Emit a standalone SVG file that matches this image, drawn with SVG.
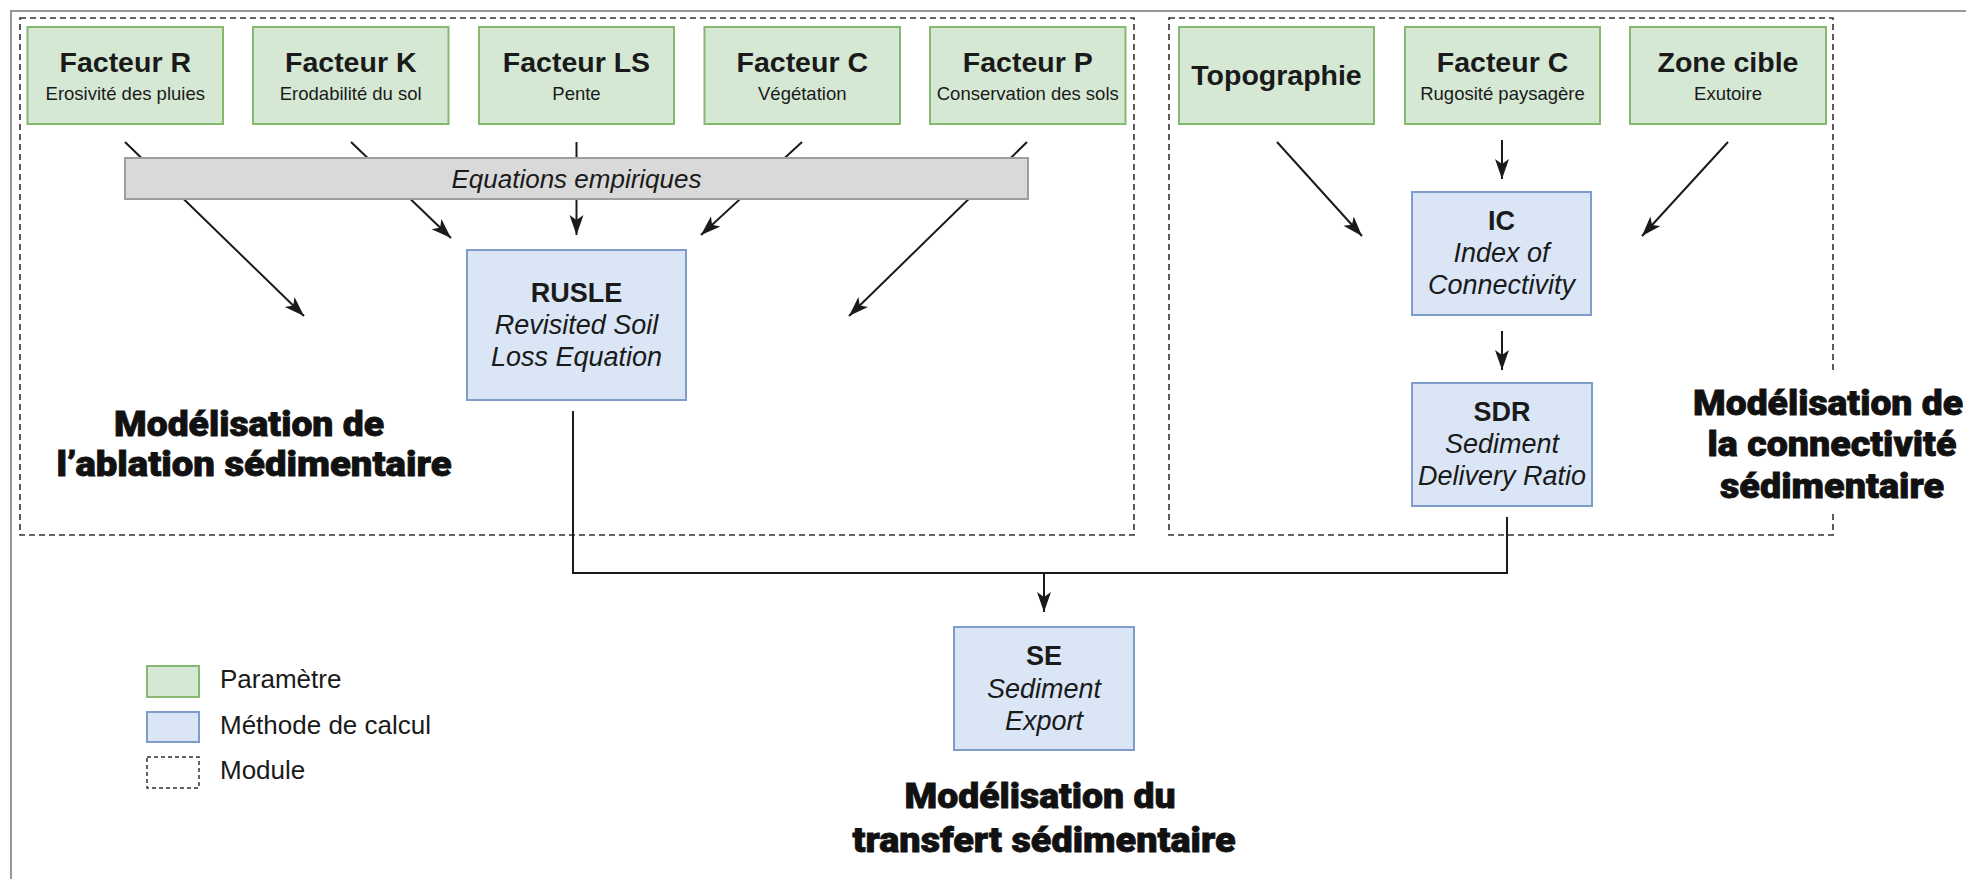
<svg xmlns="http://www.w3.org/2000/svg" width="1966" height="879" viewBox="0 0 1966 879">
<defs>
<style>
.param{fill:#d5e8d4;stroke:#86b870;stroke-width:2}
.calc{fill:#dae6f6;stroke:#7f9dcb;stroke-width:2}
.module{fill:none;stroke:#333;stroke-width:1.6;stroke-dasharray:6 4}
.t{font-family:"Liberation Sans",Arial,sans-serif;fill:#1a1a1a;text-anchor:middle}
.h{font-weight:bold;font-size:28.5px}
.s{font-size:18.5px}
.mh{font-weight:bold;font-size:27px}
.mi{font-style:italic;font-size:27px}
.title{font-family:Roboto,"Liberation Sans",Arial,sans-serif;font-weight:900;font-size:35px;fill:#111;stroke:#111;stroke-width:0.8;text-anchor:middle}
.leg{font-family:"Liberation Sans",Arial,sans-serif;fill:#1a1a1a;font-size:26px}
.edge{fill:none;stroke:#1a1a1a;stroke-width:2}
.arrow{fill:none;stroke:#1a1a1a;stroke-width:2;marker-end:url(#arr)}
</style>
<marker id="arr" markerUnits="userSpaceOnUse" markerWidth="22" markerHeight="16" refX="20" refY="7" orient="auto">
<path d="M0,0 L20,7 L0,14 L5,7 Z" fill="#1a1a1a"/>
</marker>
</defs>
<rect x="0" y="0" width="1966" height="879" fill="#ffffff"/>
<rect x="11" y="11" width="2000" height="900" fill="none" stroke="#8c8c8c" stroke-width="1.8"/>

<g id="module-ablation">
<rect class="module" x="20" y="18" width="1114" height="517"/>
<text class="title" x="249" y="436" textLength="270" lengthAdjust="spacingAndGlyphs">Modélisation de</text>
<text class="title" x="254" y="476" textLength="395" lengthAdjust="spacingAndGlyphs">l’ablation sédimentaire</text>
</g>

<g id="module-connectivite">
<rect class="module" x="1169" y="18" width="664" height="517"/>
<rect x="1684" y="372" width="282" height="140" fill="#ffffff"/>
<text class="title" x="1828" y="415" textLength="270" lengthAdjust="spacingAndGlyphs">Modélisation de</text>
<text class="title" x="1832" y="456" textLength="249" lengthAdjust="spacingAndGlyphs">la connectivité</text>
<text class="title" x="1832" y="498" textLength="224" lengthAdjust="spacingAndGlyphs">sédimentaire</text>
</g>

<g id="module-transfert">
<text class="title" x="1040" y="808" textLength="271" lengthAdjust="spacingAndGlyphs">Modélisation du</text>
<text class="title" x="1044" y="852" textLength="383" lengthAdjust="spacingAndGlyphs">transfert sédimentaire</text>
</g>

<g id="connectors">
<line class="arrow" x1="125" y1="142" x2="304" y2="316"/>
<line class="arrow" x1="351" y1="142" x2="451" y2="238"/>
<line class="arrow" x1="576.5" y1="142" x2="576.5" y2="235"/>
<line class="arrow" x1="802" y1="142" x2="701" y2="235"/>
<line class="arrow" x1="1027" y1="142" x2="849" y2="316"/>
<line class="arrow" x1="1277" y1="142" x2="1362" y2="236"/>
<line class="arrow" x1="1502" y1="140" x2="1502" y2="179"/>
<line class="arrow" x1="1728" y1="142" x2="1642" y2="236"/>
<line class="arrow" x1="1502" y1="331" x2="1502" y2="370"/>
<polyline class="edge" points="573,411 573,573 1507,573 1507,517"/>
<line class="arrow" x1="1044" y1="573" x2="1044" y2="612"/>
</g>

<g id="equations-empiriques">
<rect x="125" y="158" width="903" height="41" fill="#d9d9d9" stroke="#9e9e9e" stroke-width="2"/>
<text class="t" x="576.5" y="188" font-size="26" font-style="italic">Equations empiriques</text>
</g>

<g id="facteur-r">
<rect class="param" x="27.5" y="27" width="195.5" height="97"/>
<text class="t h" x="125.25" y="72">Facteur R</text>
<text class="t s" x="125.25" y="100">Erosivité des pluies</text>
</g>
<g id="facteur-k">
<rect class="param" x="253" y="27" width="195.5" height="97"/>
<text class="t h" x="350.75" y="72">Facteur K</text>
<text class="t s" x="350.75" y="100">Erodabilité du sol</text>
</g>
<g id="facteur-ls">
<rect class="param" x="479" y="27" width="195" height="97"/>
<text class="t h" x="576.5" y="72">Facteur LS</text>
<text class="t s" x="576.5" y="100">Pente</text>
</g>
<g id="facteur-c">
<rect class="param" x="704.5" y="27" width="195.5" height="97"/>
<text class="t h" x="802.25" y="72">Facteur C</text>
<text class="t s" x="802.25" y="100">Végétation</text>
</g>
<g id="facteur-p">
<rect class="param" x="930" y="27" width="195.5" height="97"/>
<text class="t h" x="1027.75" y="72">Facteur P</text>
<text class="t s" x="1027.75" y="100">Conservation des sols</text>
</g>
<g id="topographie">
<rect class="param" x="1179" y="27" width="195" height="97"/>
<text class="t h" x="1276.5" y="85">Topographie</text>
</g>
<g id="facteur-c-rugosite">
<rect class="param" x="1405" y="27" width="195" height="97"/>
<text class="t h" x="1502.5" y="72">Facteur C</text>
<text class="t s" x="1502.5" y="100">Rugosité paysagère</text>
</g>
<g id="zone-cible">
<rect class="param" x="1630" y="27" width="196" height="97"/>
<text class="t h" x="1728" y="72">Zone cible</text>
<text class="t s" x="1728" y="100">Exutoire</text>
</g>

<g id="rusle">
<rect class="calc" x="467" y="250" width="219" height="150"/>
<text class="t mh" x="576.5" y="302">RUSLE</text>
<text class="t mi" x="576.5" y="334">Revisited Soil</text>
<text class="t mi" x="576.5" y="366">Loss Equation</text>
</g>
<g id="ic">
<rect class="calc" x="1412" y="192" width="179" height="123"/>
<text class="t mh" x="1501.5" y="230">IC</text>
<text class="t mi" x="1501.5" y="262">Index of</text>
<text class="t mi" x="1501.5" y="294">Connectivity</text>
</g>
<g id="sdr">
<rect class="calc" x="1412" y="383" width="180" height="123"/>
<text class="t mh" x="1502" y="421">SDR</text>
<text class="t mi" x="1502" y="453">Sediment</text>
<text class="t mi" x="1502" y="485">Delivery Ratio</text>
</g>
<g id="se">
<rect class="calc" x="954" y="627" width="180" height="123"/>
<text class="t mh" x="1044" y="665">SE</text>
<text class="t mi" x="1044" y="698">Sediment</text>
<text class="t mi" x="1044" y="730">Export</text>
</g>

<g id="legend">
<rect class="param" x="147" y="666" width="52" height="31"/>
<text class="leg" x="220" y="688">Paramètre</text>
<rect class="calc" x="147" y="712" width="52" height="30"/>
<text class="leg" x="220" y="734">Méthode de calcul</text>
<rect x="147" y="757" width="52" height="31" fill="none" stroke="#333" stroke-width="1.5" stroke-dasharray="4 3"/>
<text class="leg" x="220" y="779">Module</text>
</g>
</svg>
